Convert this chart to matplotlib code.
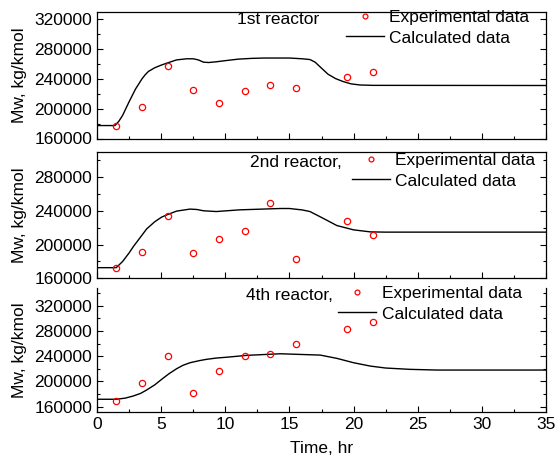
import matplotlib
matplotlib.use("Agg")
import matplotlib.pyplot as plt
from matplotlib.lines import Line2D
from matplotlib.ticker import MultipleLocator

plt.rcParams['font.family'] = ['Liberation Sans', 'DejaVu Sans']
FS = 12.5

# ---- data ----
t_exp = [1.5, 3.5, 5.5, 7.5, 9.5, 11.5, 13.5, 15.5, 19.5, 21.5]
exp1 = [177000, 202000, 257000, 225000, 207000, 224000, 232000, 228000, 242000, 249000]
exp2 = [172000, 191000, 234000, 190000, 206000, 216000, 249000, 183000, 228000, 211000]
exp3 = [169500, 198000, 241000, 181000, 216000, 240000, 244000, 259000, 283000, 294000]

t_calc1 = [0, 1.4, 1.7, 2.0, 2.5, 3.0, 3.5, 3.75, 4.0, 4.5, 5.0, 5.5, 6.2, 7.0, 7.5, 7.9, 8.3, 8.7,
           9.3, 10, 11, 12, 13, 15, 16, 16.6, 17.0, 17.5, 18.0, 18.6, 19.2, 19.8, 20.5, 21.5, 35]
calc1 = [177300, 177300, 183000, 191000, 209000, 226000, 239500, 245000, 249500, 254500,
         258000, 261000, 265000, 266500, 266500, 265000, 262000, 261500, 262500, 264000,
         266000, 267000, 267500, 267500, 266500, 265500, 262000, 254000, 246000, 240000,
         236000, 233000, 231500, 231000, 230800]

t_calc2 = [0, 1.5, 2.0, 2.5, 2.83, 3.5, 3.87, 4.5, 5.04, 5.5, 6.2, 7.25, 7.8, 8.3, 9.3,
           11.1, 14.3, 15.0, 16.0, 16.6, 17.6, 18.7, 20.0, 21.3, 22.5, 35]
calc2 = [172600, 172600, 180000, 190000, 197500, 211000, 218500, 227000, 232500, 235500,
         239600, 242000, 241500, 240000, 239100, 241100, 242700, 242700, 241000, 239100,
         231300, 222500, 217400, 215000, 214700, 214700]

t_calc3 = [0, 1.5, 2.2, 2.83, 3.4, 3.87, 4.5, 5.04, 5.6, 6.2, 6.7, 7.25, 8.0, 8.55, 9.3, 10.1, 11.7,
           14.3, 15.0, 17.4, 18.7, 20.0, 21.3, 22.5, 24.4, 26.5, 35]
calc3 = [171700, 171700, 173500, 176900, 181000, 186400, 194500, 203300, 212000, 220000,
         225500, 229600, 233000, 235000, 237000, 238300, 241300, 243800, 243300, 241700,
         236500, 229600, 224300, 221200, 219100, 218000, 218000]

reactor_labels = ["1st reactor", "2nd reactor,", "4th reactor,"]
ylims = [(160000, 329000), (160000, 310000), (152000, 348000)]
yticks = [[160000, 200000, 240000, 280000, 320000],
          [160000, 200000, 240000, 280000],
          [160000, 200000, 240000, 280000, 320000]]

W, H = 556, 458
def fx(x): return x / W
def fy(y): return 1 - y / H

fig = plt.figure(figsize=(W / 100, H / 100), dpi=100)

boxes = [(12, 138.5), (151.7, 278.3), (288, 411.7)]
left, right = 97, 546
axes = []
for (top, bot) in boxes:
    ax = fig.add_axes([fx(left), fy(bot), fx(right) - fx(left), fy(top) - fy(bot)])
    axes.append(ax)

series = [(t_calc1, calc1, exp1), (t_calc2, calc2, exp2), (t_calc3, calc3, exp3)]
for i, ax in enumerate(axes):
    tc, cc, ee = series[i]
    ax.plot(tc, cc, color='black', lw=1.0)
    ax.plot(t_exp, ee, 'o', mfc='none', mec='red', ms=4.5, mew=0.9)
    ax.set_xlim(0, 35)
    ax.set_ylim(*ylims[i])
    ax.set_yticks(yticks[i])
    ax.yaxis.set_minor_locator(MultipleLocator(20000))
    ax.xaxis.set_major_locator(MultipleLocator(5))
    ax.xaxis.set_minor_locator(MultipleLocator(2.5))
    ax.tick_params(which='both', direction='in', right=True, top=False,
                   labelsize=FS, width=0.8)
    ax.tick_params(which='major', length=4)
    ax.tick_params(which='minor', length=2.5)
    ax.set_ylabel("Mw, kg/kmol", fontsize=FS)
    for s in ax.spines.values():
        s.set_linewidth(0.9)
    if i < 2:
        ax.tick_params(labelbottom=False)
    ax.yaxis.set_label_coords((27 - left) / (right - left), 0.5)
axes[2].spines['top'].set_visible(False)
axes[2].set_xlabel("Time, hr", fontsize=FS, labelpad=7)

leg_pos = [(346, 10, 319, 19), (351.7, 153, 341.7, 162.5), (338.3, 286, 333.3, 296)]
for i, ax in enumerate(axes):
    hx, hy, tx, ty = leg_pos[i]
    handles = [Line2D([], [], ls='none', marker='o', mfc='none', mec='red', ms=3.5, mew=0.9),
               Line2D([], [], color='black', lw=1.0)]
    ax.legend(handles, ["Experimental data", "Calculated data"], loc='upper left',
              bbox_to_anchor=(fx(hx), fy(hy)), bbox_transform=fig.transFigure,
              frameon=False, borderpad=0, borderaxespad=0, handlelength=2.2,
              handletextpad=0.3, labelspacing=0.3, fontsize=FS)
    fig.text(fx(tx), fy(ty), reactor_labels[i], ha='right', va='center', fontsize=FS)

fig.savefig("out.png", dpi=100)
